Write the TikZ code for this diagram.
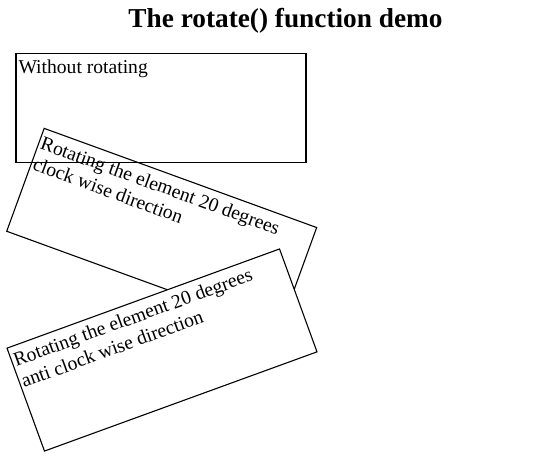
\documentclass[tikz,border=0pt]{standalone}
\usepackage{fontspec}
\setmainfont{Liberation Serif}
\begin{document}
\begin{tikzpicture}[x=1pt,y=-1pt,
  boxline/.style={draw=black,line width=1.1pt},
  boxtext/.style={anchor=base west,inner sep=0pt,align=left,
    font=\fontsize{19.6}{22.5}\selectfont}]
\useasboundingbox (0,0) rectangle (545,459);
\node[anchor=base,inner sep=0pt,font=\fontsize{27.3}{30}\selectfont\bfseries] (title) at (285.5,27.3) {The rotate() function demo};
% box 1
\begin{scope}[shift={(161,108)}]
  \draw[boxline] (-145,-54.75) rectangle (145,54.75);
  \node[boxtext] (t1) at (-142.7,-34.2) {Without rotating};
\end{scope}
% box 2 (clockwise)
\begin{scope}[shift={(161.7,229.4)},rotate=-20,transform shape]
  \draw[boxline] (-145,-54.75) rectangle (145,54.75);
  \node[boxtext] (t2) at (-142.7,-11.7) {Rotating the element 20 degrees\\clock wise direction};
\end{scope}
% box 3 (anticlockwise)
\begin{scope}[shift={(162,350)},rotate=20,transform shape]
  \draw[boxline,fill=white] (-145,-54.75) rectangle (145,54.75);
  \node[boxtext] (t3) at (-142.7,-11.7) {Rotating the element 20 degrees\\anti clock wise direction};
\end{scope}
\end{tikzpicture}
\end{document}
